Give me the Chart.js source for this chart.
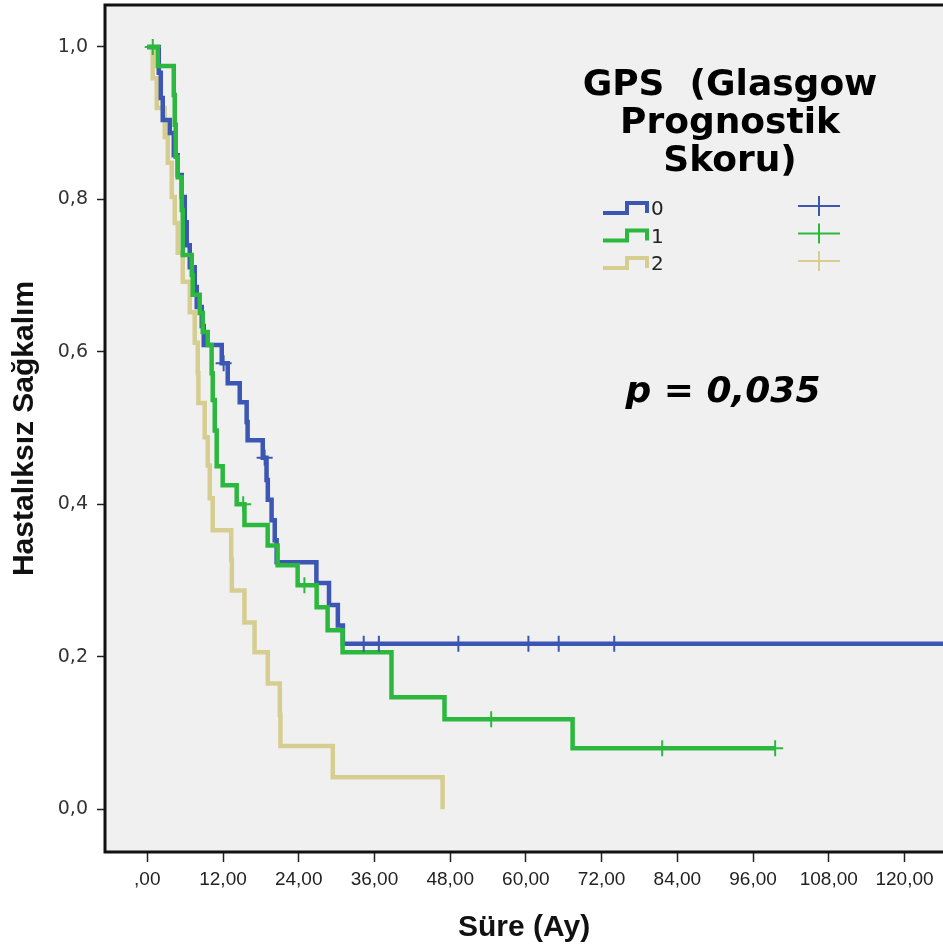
<!DOCTYPE html>
<html>
<head>
<meta charset="utf-8">
<script src="https://cdn.jsdelivr.net/npm/chart.js@4.4.1/dist/chart.umd.min.js"></script>
<style>
  html, body { margin: 0; padding: 0; background: #fff; overflow: hidden; }
  #wrap { width: 943px; height: 949px; position: relative; }
</style>
</head>
<body>
<div id="wrap"><canvas id="kmChart"></canvas></div>
<script>
// Kaplan-Meier: GPS groups 0, 1, 2
var groupLabels = ['0', '1', '2'];
var groupColors = ['rgb(60, 86, 180)', 'rgb(44, 184, 62)', 'rgb(214, 205, 145)'];
var legendTitle = ['GPS  (Glasgow', 'Prognostik', 'Skoru)'];
var pText = 'p = 0,035';

var xTickValues = [0, 12, 24, 36, 48, 60, 72, 84, 96, 108, 120];
var xTickLabels = [',00', '12,00', '24,00', '36,00', '48,00', '60,00', '72,00', '84,00', '96,00', '108,00', '120,00'];
var yTickValues = [0, 0.2, 0.4, 0.6, 0.8, 1.0];
var yTickLabels = ['0,0', '0,2', '0,4', '0,6', '0,8', '1,0'];

// group 0
var time0 = [0, 1.82, 2.14, 2.45, 3.56, 4.2, 4.83, 5.46, 5.94, 6.25, 6.73, 7.52, 7.84, 8.63, 8.95, 11.8, 12.75, 14.65, 15.75, 15.9, 18.3, 18.9, 19.1, 19.7, 20.2, 20.5, 26.8, 28.8, 30.2, 31.0, 130];
var surv0 = [1, 0.966, 0.933, 0.904, 0.887, 0.858, 0.832, 0.803, 0.770, 0.740, 0.711, 0.685, 0.659, 0.634, 0.609, 0.585, 0.559, 0.534, 0.508, 0.484, 0.461, 0.432, 0.406, 0.379, 0.353, 0.324, 0.297, 0.268, 0.241, 0.217, 0.217];
var cens0Time = [12.1, 18.6, 34.3, 36.7, 49.3, 60.4, 65.2, 74.0];
var cens0Surv = [0.585, 0.461, 0.217, 0.217, 0.217, 0.217, 0.217, 0.217];

// group 1
var time1 = [0, 1.66, 4.2, 4.35, 4.51, 4.83, 5.46, 5.62, 7.05, 7.2, 8.31, 8.79, 9.58, 10.2, 10.37, 10.69, 11.0, 11.95, 14.17, 15.4, 19.08, 20.66, 23.83, 26.84, 28.58, 30.95, 38.7, 47.1, 67.4, 99.6];
var surv1 = [1, 0.975, 0.937, 0.898, 0.856, 0.829, 0.786, 0.727, 0.701, 0.675, 0.651, 0.626, 0.609, 0.572, 0.537, 0.497, 0.450, 0.425, 0.400, 0.373, 0.346, 0.320, 0.294, 0.265, 0.235, 0.206, 0.147, 0.118, 0.080, 0.080];
var cens1Time = [0.87, 15.2, 24.9, 54.5, 81.6, 99.5];
var cens1Surv = [1.0, 0.400, 0.294, 0.118, 0.080, 0.080];

// group 2
var time2 = [0, 0.87, 1.5, 2.77, 3.25, 3.88, 4.35, 4.83, 5.62, 6.73, 7.52, 8.0, 8.1, 9.1, 9.58, 9.9, 10.37, 13.3, 13.4, 15.4, 17.0, 19.1, 21.0, 21.1, 29.4, 46.8];
var surv2 = [1, 0.959, 0.920, 0.882, 0.848, 0.803, 0.769, 0.730, 0.692, 0.652, 0.612, 0.572, 0.533, 0.488, 0.451, 0.408, 0.366, 0.327, 0.287, 0.245, 0.206, 0.165, 0.124, 0.083, 0.042, 0.0];

function toPoints(xs, ys) {
    return xs.map(function (x, i) { return { x: x, y: ys[i] }; });
}

var sans = "'Liberation Sans', Arial, sans-serif";

var plotFrame = {
    id: 'plotFrame',
    beforeDraw: function (chart) {
        var ctx = chart.ctx, a = chart.chartArea;
        ctx.save();
        ctx.fillStyle = '#f0f0f0';
        ctx.fillRect(a.left, a.top, a.right - a.left, a.bottom - a.top);
        ctx.restore();
    },
    afterDraw: function (chart) {
        var ctx = chart.ctx, a = chart.chartArea;
        ctx.save();
        ctx.strokeStyle = '#111';
        ctx.lineWidth = 3;
        ctx.beginPath();
        ctx.moveTo(a.right + 5, a.top);
        ctx.lineTo(a.left, a.top);
        ctx.lineTo(a.left, a.bottom);
        ctx.lineTo(a.right + 5, a.bottom);
        ctx.stroke();
        ctx.restore();
    }
};

var kmLegend = {
    id: 'kmLegend',
    afterDraw: function (chart) {
        var ctx = chart.ctx;
        ctx.save();
        ctx.fillStyle = '#000';
        ctx.textAlign = 'center';
        ctx.textBaseline = 'alphabetic';
        ctx.font = "bold 36px 'DejaVu Sans'";
        legendTitle.forEach(function (line, i) {
            ctx.fillText(line, 730, 95 + i * 38);
        });
        groupLabels.forEach(function (lab, i) {
            var y = 213 + i * 27.5;
            ctx.strokeStyle = groupColors[i];
            ctx.lineWidth = 4;
            ctx.beginPath();
            ctx.moveTo(603, y);
            ctx.lineTo(627, y);
            ctx.lineTo(627, y - 10);
            ctx.lineTo(647, y - 10);
            ctx.lineTo(647, y);
            ctx.stroke();
            ctx.fillStyle = '#222';
            ctx.textAlign = 'left';
            ctx.textBaseline = 'middle';
            ctx.font = "20px 'DejaVu Sans'";
            ctx.fillText(lab, 651, y - 3);
            ctx.lineWidth = 2;
            ctx.beginPath();
            ctx.moveTo(798, y - 7);
            ctx.lineTo(840, y - 7);
            ctx.moveTo(819, y - 17);
            ctx.lineTo(819, y + 3);
            ctx.stroke();
        });
        ctx.fillStyle = '#000';
        ctx.textAlign = 'center';
        ctx.textBaseline = 'alphabetic';
        ctx.font = "italic bold 36px 'DejaVu Sans'";
        ctx.fillText(pText, 723, 402);
        ctx.restore();
    }
};

function lineSet(label, pts, color, order) {
    return {
        label: label,
        data: pts,
        borderColor: color,
        borderWidth: 4.5,
        pointRadius: 0,
        stepped: true,
        fill: false,
        order: order
    };
}

function censSet(label, pts, color) {
    return {
        label: label,
        data: pts,
        showLine: false,
        pointStyle: 'cross',
        pointRadius: 8,
        pointBorderWidth: 2,
        pointBorderColor: color,
        pointBackgroundColor: color,
        order: 1
    };
}

var ctx = document.getElementById('kmChart').getContext('2d');
var kmChart = new Chart(ctx, {
    type: 'line',
    data: {
        datasets: [
            lineSet('1', toPoints(time1, surv1), groupColors[1], 2),
            lineSet('0', toPoints(time0, surv0), groupColors[0], 3),
            lineSet('2', toPoints(time2, surv2), groupColors[2], 4),
            censSet('0 sansürlü', toPoints(cens0Time, cens0Surv), groupColors[0]),
            censSet('1 sansürlü', toPoints(cens1Time, cens1Surv), groupColors[1])
        ]
    },
    options: {
        responsive: true,
        maintainAspectRatio: false,
        animation: false,
        layout: { autoPadding: false, padding: { top: 5, left: 0, right: 0, bottom: 0 } },
        scales: {
            x: {
                type: 'linear',
                min: -6.7,
                max: 126.1,
                afterBuildTicks: function (scale) {
                    scale.ticks = xTickValues.map(function (v) { return { value: v }; });
                },
                afterFit: function (scale) {
                    scale.height = 97;
                    scale.paddingLeft = 0;
                    scale.paddingRight = 0;
                },
                border: { display: false },
                grid: { drawOnChartArea: false, tickLength: 10, tickWidth: 1.5, tickColor: '#222' },
                ticks: {
                    autoSkip: false,
                    maxRotation: 0,
                    padding: 6,
                    color: '#222',
                    font: { family: sans, size: 19 },
                    callback: function (v) { return xTickLabels[xTickValues.indexOf(v)]; }
                },
                title: {
                    display: true,
                    text: 'Süre (Ay)',
                    color: '#111',
                    padding: { top: 0, bottom: 3 },
                    font: { family: sans, size: 30, weight: 'bold' }
                }
            },
            y: {
                type: 'linear',
                min: -0.056,
                max: 1.055,
                afterBuildTicks: function (scale) {
                    scale.ticks = yTickValues.map(function (v) { return { value: v }; });
                },
                afterFit: function (scale) {
                    scale.width = 105;
                    scale.paddingTop = 0;
                    scale.paddingBottom = 0;
                },
                border: { display: false },
                grid: { drawOnChartArea: false, tickLength: 8, tickWidth: 1.5, tickColor: '#222' },
                ticks: {
                    padding: 9,
                    color: '#333',
                    font: { family: "'DejaVu Sans', sans-serif", size: 19 },
                    callback: function (v) { return yTickLabels[yTickValues.indexOf(v)]; }
                },
                title: {
                    display: true,
                    text: 'Hastalıksız Sağkalım',
                    color: '#111',
                    padding: { top: 7, bottom: 0 },
                    font: { family: sans, size: 30, weight: 'bold' }
                }
            }
        },
        plugins: {
            legend: { display: false },
            tooltip: { enabled: false }
        }
    },
    plugins: [plotFrame, kmLegend]
});
</script>
</body>
</html>
